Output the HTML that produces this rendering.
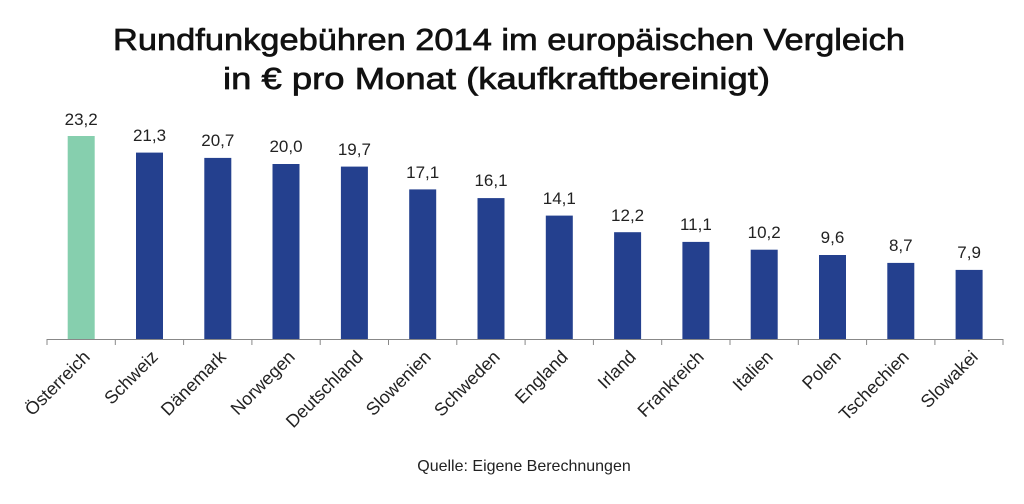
<!DOCTYPE html>
<html><head><meta charset="utf-8"><style>
body{margin:0;background:#fff;width:1024px;height:499px;overflow:hidden}
</style></head><body>
<svg width="1024" height="499" xmlns="http://www.w3.org/2000/svg" font-family="Liberation Sans, sans-serif">
<text x="113" y="50" font-size="31" fill="#111" stroke="#111" stroke-width="0.7" textLength="792" lengthAdjust="spacingAndGlyphs">Rundfunkgebühren 2014 im europäischen Vergleich</text>
<text x="223" y="89" font-size="31" fill="#111" stroke="#111" stroke-width="0.7" textLength="547" lengthAdjust="spacingAndGlyphs">in € pro Monat (kaufkraftbereinigt)</text>
<g font-size="17" fill="#222" text-anchor="middle">
<rect x="67.7" y="136" width="27" height="203" fill="#86cfae"/><text x="81.2" y="125">23,2</text>
<rect x="136" y="152.6" width="27" height="186.4" fill="#24408e"/><text x="149.5" y="141">21,3</text>
<rect x="204.3" y="157.9" width="27" height="181.1" fill="#24408e"/><text x="217.8" y="146">20,7</text>
<rect x="272.5" y="164" width="27" height="175" fill="#24408e"/><text x="286" y="152">20,0</text>
<rect x="340.9" y="166.6" width="27" height="172.4" fill="#24408e"/><text x="354.4" y="155">19,7</text>
<rect x="409.2" y="189.4" width="27" height="149.6" fill="#24408e"/><text x="422.7" y="178">17,1</text>
<rect x="477.5" y="198.1" width="27" height="140.9" fill="#24408e"/><text x="491" y="186">16,1</text>
<rect x="545.8" y="215.6" width="27" height="123.4" fill="#24408e"/><text x="559.3" y="204">14,1</text>
<rect x="614.1" y="232.2" width="27" height="106.8" fill="#24408e"/><text x="627.6" y="221">12,2</text>
<rect x="682.4" y="241.9" width="27" height="97.1" fill="#24408e"/><text x="695.9" y="230">11,1</text>
<rect x="750.7" y="249.7" width="27" height="89.3" fill="#24408e"/><text x="764.2" y="238">10,2</text>
<rect x="819" y="255" width="27" height="84" fill="#24408e"/><text x="832.5" y="243">9,6</text>
<rect x="887.3" y="262.9" width="27" height="76.1" fill="#24408e"/><text x="900.8" y="251">8,7</text>
<rect x="955.6" y="269.9" width="27" height="69.1" fill="#24408e"/><text x="969.1" y="258">7,9</text>
</g>
<line x1="47" y1="339.5" x2="1003" y2="339.5" stroke="#888" stroke-width="1"/>
<g stroke="#888">
<line x1="47" y1="339" x2="47" y2="345"/><line x1="115.3" y1="339" x2="115.3" y2="345"/><line x1="183.6" y1="339" x2="183.6" y2="345"/><line x1="251.9" y1="339" x2="251.9" y2="345"/><line x1="320.2" y1="339" x2="320.2" y2="345"/><line x1="388.5" y1="339" x2="388.5" y2="345"/><line x1="456.8" y1="339" x2="456.8" y2="345"/><line x1="525.1" y1="339" x2="525.1" y2="345"/><line x1="593.4" y1="339" x2="593.4" y2="345"/><line x1="661.7" y1="339" x2="661.7" y2="345"/><line x1="730" y1="339" x2="730" y2="345"/><line x1="798.3" y1="339" x2="798.3" y2="345"/><line x1="866.6" y1="339" x2="866.6" y2="345"/><line x1="934.9" y1="339" x2="934.9" y2="345"/><line x1="1003" y1="339" x2="1003" y2="345"/>
</g>
<g font-size="18" fill="#222" text-anchor="end">
<text x="91" y="358" transform="rotate(-45 91 358)">Österreich</text>
<text x="159" y="358" transform="rotate(-45 159 358)">Schweiz</text>
<text x="227" y="358" transform="rotate(-45 227 358)">Dänemark</text>
<text x="296" y="358" transform="rotate(-45 296 358)">Norwegen</text>
<text x="364" y="358" transform="rotate(-45 364 358)">Deutschland</text>
<text x="432" y="358" transform="rotate(-45 432 358)">Slowenien</text>
<text x="501" y="358" transform="rotate(-45 501 358)">Schweden</text>
<text x="569" y="358" transform="rotate(-45 569 358)">England</text>
<text x="637" y="358" transform="rotate(-45 637 358)">Irland</text>
<text x="705" y="358" transform="rotate(-45 705 358)">Frankreich</text>
<text x="774" y="358" transform="rotate(-45 774 358)">Italien</text>
<text x="842" y="358" transform="rotate(-45 842 358)">Polen</text>
<text x="910" y="358" transform="rotate(-45 910 358)">Tschechien</text>
<text x="979" y="358" transform="rotate(-45 979 358)">Slowakei</text>
</g>
<text x="524" y="471" text-anchor="middle" font-size="16" fill="#222">Quelle: Eigene Berechnungen</text>
</svg>
</body></html>
